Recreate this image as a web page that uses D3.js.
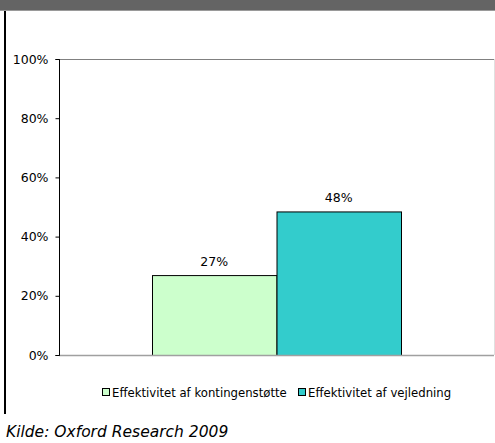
<!DOCTYPE html>
<html><head><meta charset="utf-8">
<script src="https://cdn.jsdelivr.net/npm/d3@7"></script>
<style>html,body{margin:0;padding:0;background:#fff;}svg{display:block;}</style>
</head><body>
<script>
const series = ["Effektivitet af kontingenstøtte", "Effektivitet af vejledning"];
const values = [0.27, 0.485];
const labels = ["27%", "48%"];
const colors = ["#ccffcc", "#33cccc"];
const yTicks = [0, 0.2, 0.4, 0.6, 0.8, 1.0];
const source = "Kilde: Oxford Research 2009";

const W = 495, H = 443;
const svg = d3.select("body").append("svg").attr("width", W).attr("height", H);
const font = "DejaVu Sans, Verdana, sans-serif";

// header band
svg.append("rect").attr("x",0).attr("y",0).attr("width",W).attr("height",10).attr("fill","#646464");
svg.append("rect").attr("x",0).attr("y",10).attr("width",W).attr("height",1).attr("fill","#9a9a9a");
// left border
svg.append("rect").attr("x",4).attr("y",11).attr("width",2).attr("height",403).attr("fill","#000");

const x0 = 59, x1 = 494, yTop = 59, yBot = 355;
const y = d3.scaleLinear().domain([0,1]).range([yBot, yTop]);
const x = d3.scaleBand().domain(series).range([152, 401]).padding(0);

// plot top border and right border
svg.append("line").attr("x1",x0).attr("x2",x1).attr("y1",yTop+0.5).attr("y2",yTop+0.5).attr("stroke","#808080");
svg.append("line").attr("x1",x1+0.5).attr("x2",x1+0.5).attr("y1",yTop).attr("y2",yBot).attr("stroke","#e0e0e0");

// bars
svg.selectAll("rect.bar").data(series).enter().append("rect")
  .attr("class","bar")
  .attr("x", d => x(d)+0.5)
  .attr("y", (d,i) => y(values[i])+0.5)
  .attr("width", x.bandwidth())
  .attr("height", (d,i) => yBot - y(values[i]))
  .attr("fill", (d,i) => colors[i])
  .attr("stroke", "#000").attr("stroke-width", 1);

// value labels
svg.selectAll("text.vl").data(series).enter().append("text")
  .attr("x", d => x(d) + x.bandwidth()/2)
  .attr("y", (d,i) => y(values[i]) - 9)
  .attr("text-anchor","middle")
  .attr("font-family", font).attr("font-size", 12.5).attr("fill","#000")
  .text((d,i) => labels[i]);

// x axis baseline
svg.append("line").attr("x1",x0).attr("x2",x1).attr("y1",yBot+0.5).attr("y2",yBot+0.5).attr("stroke","#a0a0a0").attr("stroke-width",1.5);

// y axis
const yAxis = d3.axisLeft(y).tickValues(yTicks).tickFormat(d3.format(".0%")).tickSize(4).tickPadding(7);
const ga = svg.append("g").attr("transform", `translate(${x0+0.5},0)`).call(yAxis);
ga.select(".domain").attr("stroke","#000").attr("d", `M-4,${yTop+0.5}H0V${yBot+0.5}H-4`);
ga.selectAll(".tick line").attr("stroke","#000");
ga.selectAll("text").attr("font-family", font).attr("font-size", 12.5).attr("fill","#000");

// legend
const lg = svg.append("g");
const lx = [102, 298];
series.forEach((s,i) => {
  lg.append("rect").attr("x", lx[i]+0.5).attr("y", 388.5).attr("width", 7).attr("height", 7)
    .attr("fill", colors[i]).attr("stroke","#000");
  lg.append("text").attr("x", lx[i]+10).attr("y", 396.5).attr("font-family", font).attr("font-size", 11.7)
    .attr("fill","#000").text(s);
});

// source
svg.append("text").attr("x", 6).attr("y", 437).attr("font-family", font).attr("font-style","italic")
  .attr("font-size", 15.5).attr("fill","#000").text(source);
</script>
</body></html>
